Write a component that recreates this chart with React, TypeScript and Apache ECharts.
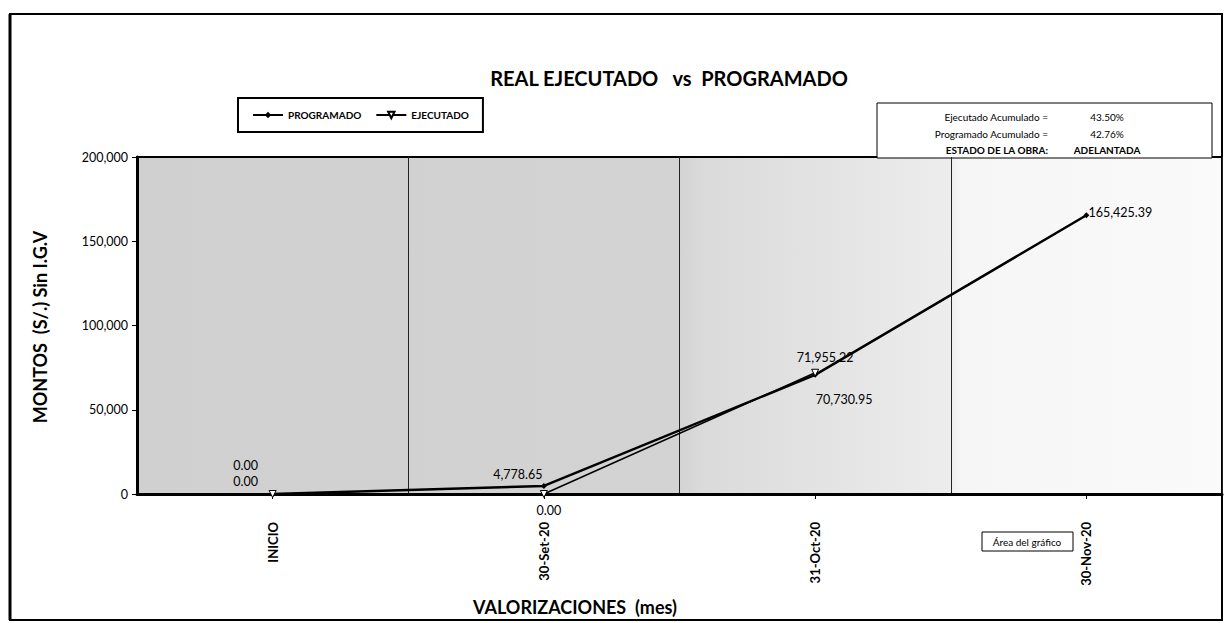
import React, { useEffect, useRef } from "react";
import * as echarts from "echarts";

const categories = ["INICIO", "30-Set-20", "31-Oct-20", "30-Nov-20"];
const programado = [0, 4778.65, 70730.95, 165425.39];
const ejecutado: (number | null)[] = [0, 0, 71955.22, null];
const yTicks = { min: 0, max: 200000, interval: 50000 };
const infoRows = [
  ["Ejecutado Acumulado =", "43.50%"],
  ["Programado Acumulado =", "42.76%"],
  ["ESTADO DE LA OBRA:", "ADELANTADA"],
];

// label offsets (px) relative to each point's centre
const progOffsets = [[-27, -29], [-26, -11], [29, 25], [34, -3]];
const ejecOffsets = [[-27, -13], [5, 16], [10, -15], [0, 0]];

const FONT = "Lato, 'Open Sans', sans-serif";

const fmt = (v: number) =>
  v.toLocaleString("en-US", { minimumFractionDigits: 2, maximumFractionDigits: 2 });

export default function App() {
  const ref = useRef<HTMLDivElement>(null);
  useEffect(() => {
    if (!ref.current) return;
    const chart = echarts.init(ref.current, undefined, { renderer: "svg" });
    const mkData = (arr: (number | null)[], offs: number[][]) =>
      arr.map((v, i) =>
        v === null
          ? null
          : {
              value: v,
              label: { show: true, position: "inside", offset: offs[i] },
            }
      );
    chart.setOption({
      animation: false,
      backgroundColor: "#fff",
      textStyle: { fontFamily: FONT },
      grid: {
        left: 137,
        right: 8,
        top: 157,
        bottom: 129,
        show: true,
        borderColor: "#000",
        borderWidth: 2,
        backgroundColor: new echarts.graphic.LinearGradient(0, 0, 1, 0, [
          { offset: 0, color: "#d0d0d0" },
          { offset: 0.5, color: "#d3d3d3" },
          { offset: 0.52, color: "#dadada" },
          { offset: 0.75, color: "#ededed" },
          { offset: 0.76, color: "#f6f6f6" },
          { offset: 1, color: "#fafafa" },
        ]),
      },
      legend: {
        data: ["PROGRAMADO", "EJECUTADO"],
        left: 238,
        top: 98,
        orient: "horizontal",
        borderColor: "#000",
        borderWidth: 2,
        padding: [12, 14, 12, 14],
        itemWidth: 30,
        itemHeight: 8,
        itemGap: 14,
        textStyle: { fontSize: 10, color: "#000", fontFamily: FONT, fontWeight: "bold" },
      },
      xAxis: {
        type: "category",
        data: categories,
        boundaryGap: true,
        axisLine: { lineStyle: { color: "#000", width: 3 } },
        axisTick: { show: true, alignWithLabel: true, length: 5, lineStyle: { color: "#000" } },
        axisLabel: {
          rotate: 90,
          margin: 28,
          fontSize: 13,
          fontWeight: "bold",
          color: "#000",
          fontFamily: FONT,
        },
        splitLine: { show: true, lineStyle: { color: "#222", width: 1 } },
      },
      yAxis: {
        type: "value",
        min: yTicks.min,
        max: yTicks.max,
        interval: yTicks.interval,
        axisLine: { show: true, lineStyle: { color: "#000", width: 3 } },
        axisTick: { show: true, length: 5, lineStyle: { color: "#000" } },
        axisLabel: {
          fontSize: 12.5,
          color: "#000",
          margin: 9,
          fontFamily: FONT,
          formatter: (v: number) => v.toLocaleString("en-US"),
        },
        splitLine: { show: false },
      },
      series: [
        {
          name: "PROGRAMADO",
          type: "line",
          data: mkData(programado, progOffsets),
          symbol: "diamond",
          symbolSize: 6,
          itemStyle: { color: "#000" },
          lineStyle: { color: "#000", width: 2.5 },
          label: { fontSize: 12.5, color: "#000", fontFamily: FONT, formatter: (p: any) => fmt(p.value) },
          z: 3,
        },
        {
          name: "EJECUTADO",
          type: "line",
          data: mkData(ejecutado, ejecOffsets),
          symbol: "triangle",
          symbolRotate: 180,
          symbolSize: 7,
          itemStyle: { color: "#fff", borderColor: "#000", borderWidth: 1 },
          lineStyle: { color: "#000", width: 1.5 },
          label: { fontSize: 12.5, color: "#000", fontFamily: FONT, formatter: (p: any) => fmt(p.value) },
          z: 4,
        },
      ],
      graphic: [
        {
          type: "rect",
          shape: { x: 10, y: 14, width: 1212, height: 606 },
          style: { fill: "none", stroke: "#000", lineWidth: 2 },
          silent: true,
          z: 0,
        },
        {
          type: "line",
          shape: { x1: 10, y1: 14, x2: 10, y2: 620 },
          style: { stroke: "#000", lineWidth: 3 },
          silent: true,
        },
        {
          type: "text",
          x: 669,
          y: 78,
          style: {
            text: "REAL EJECUTADO   vs  PROGRAMADO",
            fontSize: 20,
            fontWeight: "bold",
            fontFamily: FONT,
            fill: "#000",
            textAlign: "center",
            textVerticalAlign: "middle",
          },
        },
        {
          type: "text",
          x: 40,
          y: 327,
          rotation: Math.PI / 2,
          style: {
            text: "MONTOS  (S/.) Sin I.G.V",
            fontSize: 18,
            fontWeight: "bold",
            fontFamily: FONT,
            fill: "#000",
            textAlign: "center",
            textVerticalAlign: "middle",
          },
        },
        {
          type: "text",
          x: 575,
          y: 607,
          style: {
            text: "VALORIZACIONES  (mes)",
            fontSize: 18,
            fontWeight: "bold",
            fontFamily: FONT,
            fill: "#000",
            textAlign: "center",
            textVerticalAlign: "middle",
          },
        },
        {
          type: "group",
          z: 10,
          children: [
            {
              type: "rect",
              shape: { x: 877, y: 103, width: 335, height: 55 },
              style: { fill: "#fff", stroke: "#000", lineWidth: 1 },
            },
            ...infoRows.flatMap((r, i) => [
              {
                type: "text",
                x: 1048,
                y: 117 + i * 16.5,
                style: {
                  text: r[0],
                  fontSize: 10,
                  fontFamily: FONT,
                  fontWeight: i === 2 ? "bold" : "normal",
                  fill: "#000",
                  textAlign: "right",
                  textVerticalAlign: "middle",
                },
              },
              {
                type: "text",
                x: 1107,
                y: 117 + i * 16.5,
                style: {
                  text: r[1],
                  fontSize: 10,
                  fontFamily: FONT,
                  fontWeight: i === 2 ? "bold" : "normal",
                  fill: "#000",
                  textAlign: "center",
                  textVerticalAlign: "middle",
                },
              },
            ]),
          ],
        },
        {
          type: "group",
          children: [
            {
              type: "rect",
              shape: { x: 982, y: 532, width: 91, height: 19 },
              style: { fill: "#fff", stroke: "#000", lineWidth: 1 },
            },
            {
              type: "text",
              x: 1027,
              y: 542,
              style: {
                text: "Área del gráfico",
                fontSize: 10,
                fontFamily: FONT,
                fill: "#000",
                textAlign: "center",
                textVerticalAlign: "middle",
              },
            },
          ],
        },
      ],
    });
    return () => chart.dispose();
  }, []);
  return <div ref={ref} style={{ width: 1230, height: 623, position: "absolute", left: 0, top: 0 }} />;
}
